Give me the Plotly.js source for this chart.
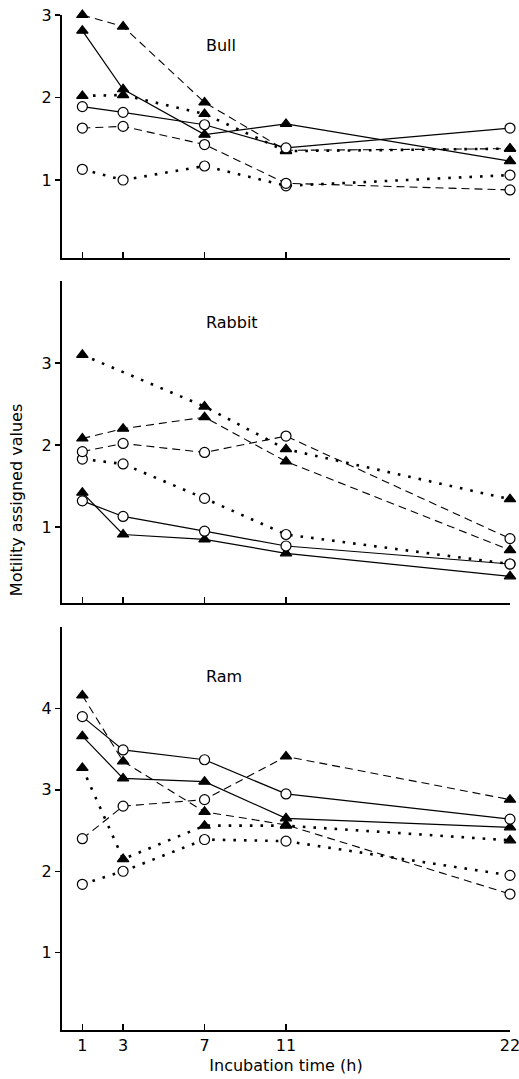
<!DOCTYPE html>
<html>
<head>
<meta charset="utf-8">
<script src="https://cdn.plot.ly/plotly-3.0.1.min.js"></script>
<style>html,body{margin:0;padding:0;background:#fff;}#chart{width:519px;height:1079px;}</style>
</head>
<body>
<div id="chart"></div>
<script>
// ---- data ----
const hours = [1, 3, 7, 11, 22];
const hourLabels = ["1", "3", "7", "11", "22"];
const panelNames = ["Bull", "Rabbit", "Ram"];

// Bull
const bullDashTri  = [3.00, 2.86, 1.94, 1.36, 1.38];
const bullSolidTri = [2.81, 2.10, 1.55, 1.68, 1.23];
const bullDotTri   = [2.02, 2.03, 1.80, 1.35, 1.38];
const bullSolidCirc = [1.89, 1.82, 1.67, 1.39, 1.63];
const bullDashCirc  = [1.63, 1.65, 1.43, 0.96, 0.88];
const bullDotCirc   = [1.13, 1.00, 1.17, 0.93, 1.06];

// Rabbit
const rabDotTri   = [3.10, null, 2.47, 1.95, 1.34];
const rabDashTri  = [2.08, 2.20, 2.34, 1.80, 0.72];
const rabSolidTri = [1.42, 0.91, 0.85, 0.68, 0.40];
const rabDashCirc  = [1.92, 2.02, 1.91, 2.11, 0.86];
const rabDotCirc   = [1.83, 1.77, 1.35, 0.91, 0.55];
const rabSolidCirc = [1.32, 1.13, 0.95, 0.77, 0.55];

// Ram
const ramDashA    = [4.16, 3.35, 2.73, 2.57, 1.72];
const ramDashB    = [2.40, 2.80, 2.88, 3.41, 2.88];
const ramSolidTri = [3.66, 3.14, 3.10, 2.65, 2.54];
const ramDotTri   = [3.27, 2.15, 2.56, 2.56, 2.38];
const ramSolidCirc = [3.90, 3.49, 3.37, 2.95, 2.64];
const ramDotCirc   = [1.84, 2.00, 2.39, 2.37, 1.95];

// ---- styles ----
const FONT = "DejaVu Sans, Arial, sans-serif";
const TRI = "triangle-up", CIR = "circle";
const dashStyles = {
  solid: {dash: "solid", width: 1.2},
  dash: {dash: "8px,5px", width: 1.1},
  dot: {dash: "2.6px,8px", width: 2.6}
};
function markerFor(sym) {
  const syms = Array.isArray(sym) ? sym : hours.map(() => sym);
  return {
    symbol: syms,
    size: 10,
    color: syms.map(s => s === CIR ? "#ffffff" : "#000000"),
    opacity: 1,
    line: {color: "#000000", width: 1.2}
  };
}
function tr(y, style, sym, xa, ya, name) {
  const ls = dashStyles[style];
  return {
    x: hours, y: y, mode: "lines+markers", name: name,
    xaxis: xa, yaxis: ya, connectgaps: true, showlegend: false,
    line: {color: "#000", width: ls.width, dash: ls.dash},
    marker: markerFor(sym), cliponaxis: false, hoverinfo: "x+y"
  };
}

const data = [
  // Bull (top) -> x3/y3
  tr(bullDashTri, "dash", TRI, "x3", "y3", "Bull dashed ▲"),
  tr(bullSolidTri, "solid", TRI, "x3", "y3", "Bull solid ▲"),
  tr(bullDotTri, "dot", TRI, "x3", "y3", "Bull dotted ▲"),
  tr(bullDotCirc, "dot", CIR, "x3", "y3", "Bull dotted ○"),
  tr(bullDashCirc, "dash", CIR, "x3", "y3", "Bull dashed ○"),
  tr(bullSolidCirc, "solid", CIR, "x3", "y3", "Bull solid ○"),
  // Rabbit (middle) -> x2/y2
  tr(rabDotTri, "dot", TRI, "x2", "y2", "Rabbit dotted ▲"),
  tr(rabDashTri, "dash", TRI, "x2", "y2", "Rabbit dashed ▲"),
  tr(rabSolidTri, "solid", TRI, "x2", "y2", "Rabbit solid ▲"),
  tr(rabDotCirc, "dot", CIR, "x2", "y2", "Rabbit dotted ○"),
  tr(rabDashCirc, "dash", CIR, "x2", "y2", "Rabbit dashed ○"),
  tr(rabSolidCirc, "solid", CIR, "x2", "y2", "Rabbit solid ○"),
  // Ram (bottom) -> x/y
  tr(ramDotTri, "dot", TRI, "x", "y", "Ram dotted ▲"),
  tr(ramSolidTri, "solid", TRI, "x", "y", "Ram solid ▲"),
  tr(ramDashA, "dash", [TRI, TRI, TRI, TRI, CIR], "x", "y", "Ram dashed A"),
  tr(ramDotCirc, "dot", CIR, "x", "y", "Ram dotted ○"),
  tr(ramDashB, "dash", [CIR, CIR, CIR, TRI, TRI], "x", "y", "Ram dashed B"),
  tr(ramSolidCirc, "solid", CIR, "x", "y", "Ram solid ○")
];

function xax(anchor, showLabels) {
  return {
    anchor: anchor, range: [0, 22], tickmode: "array",
    tickvals: hours, ticktext: hourLabels, showticklabels: showLabels,
    ticklabeloverflow: "allow",
    ticks: "inside", ticklen: 6, tickwidth: 1.5, tickcolor: "#000",
    showline: true, linecolor: "#000", linewidth: 2,
    showgrid: false, zeroline: false,
    tickfont: {family: FONT, size: 16, color: "#000"}
  };
}
function yax(anchor, domain, range, tickvals) {
  return {
    anchor: anchor, domain: domain, range: range, tickmode: "array",
    tickvals: tickvals, ticktext: tickvals.map(String),
    ticks: "outside", ticklen: 5, tickwidth: 1.5, tickcolor: "#000",
    showline: true, linecolor: "#000", linewidth: 2,
    showgrid: false, zeroline: false,
    tickfont: {family: FONT, size: 16, color: "#000"}
  };
}

const xBottom = xax("y", true);
xBottom.title = {text: "Incubation time (h)", font: {family: FONT, size: 16, color: "#000"}, standoff: 6};

const layout = {
  width: 519, height: 1079,
  margin: {l: 62, r: 9, t: 15, b: 49},
  paper_bgcolor: "#fff", plot_bgcolor: "#fff",
  font: {family: FONT, color: "#000"},
  showlegend: false,
  xaxis: xBottom,
  xaxis2: xax("y2", false),
  xaxis3: xax("y3", false),
  yaxis: yax("x", [0, 0.3970], [0.05, 5.0], [1, 2, 3, 4]),
  yaxis2: yax("x2", [0.4207, 0.7379], [0.075, 4.0], [1, 2, 3]),
  yaxis3: yax("x3", [0.7606, 1.0], [0.055, 3.0], [1, 2, 3]),
  annotations: [
    {text: panelNames[0], xref: "paper", yref: "paper", x: 0.317, y: 0.9704, xanchor: "left", yanchor: "middle", showarrow: false, font: {family: FONT, size: 16, color: "#000"}},
    {text: panelNames[1], xref: "paper", yref: "paper", x: 0.317, y: 0.6975, xanchor: "left", yanchor: "middle", showarrow: false, font: {family: FONT, size: 16, color: "#000"}},
    {text: panelNames[2], xref: "paper", yref: "paper", x: 0.317, y: 0.3481, xanchor: "left", yanchor: "middle", showarrow: false, font: {family: FONT, size: 16, color: "#000"}},
    {text: "Motility assigned values", xref: "paper", yref: "paper", x: -0.1027, y: 0.522, xanchor: "center", yanchor: "middle", textangle: -90, showarrow: false, font: {family: FONT, size: 16, color: "#000"}}
  ]
};

Plotly.newPlot("chart", data, layout, {staticPlot: true, displayModeBar: false});
</script>
</body>
</html>
